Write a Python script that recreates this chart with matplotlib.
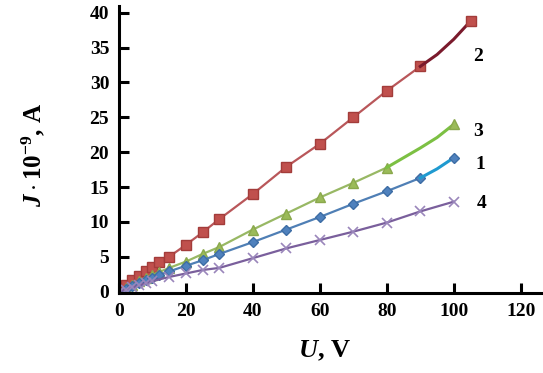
import numpy as np
import matplotlib
matplotlib.use('Agg')
import matplotlib.pyplot as plt

plt.rcParams['font.family'] = ['Liberation Serif', 'DejaVu Serif']
plt.rcParams['font.weight'] = 'bold'
plt.rcParams['mathtext.fontset'] = 'custom'
plt.rcParams['mathtext.rm'] = 'Liberation Serif:bold'
plt.rcParams['mathtext.it'] = 'Liberation Serif:italic:bold'
plt.rcParams['mathtext.bf'] = 'Liberation Serif:bold'

# Curva 2 (cuadrados rojos)
u2 = [0, 2, 4, 6, 8, 10, 12, 15, 20, 25, 30, 40, 50, 60, 70, 80, 90]
j2 = [0, 0.9, 1.6, 2.3, 3.0, 3.6, 4.2, 5.0, 6.7, 8.5, 10.4, 14.0, 17.9, 21.2, 25.0, 28.8, 32.3]
u2_end = [90, 95, 100, 105]
j2_end = [32.3, 34.0, 36.2, 38.8]

# Curva 3 (triangulos verdes)
u3 = [0, 2, 4, 6, 8, 10, 12, 15, 20, 25, 30, 40, 50, 60, 70, 80]
j3 = [0, 0.5, 1.0, 1.5, 2.0, 2.4, 2.8, 3.4, 4.3, 5.4, 6.4, 8.9, 11.2, 13.5, 15.6, 17.8]
u3_end = [80, 85, 90, 95, 100]
j3_end = [17.8, 19.2, 20.6, 22.1, 24.0]

# Curva 1 (rombos azules)
u1 = [0, 2, 4, 6, 8, 10, 12, 15, 20, 25, 30, 40, 50, 60, 70, 80, 90]
j1 = [0, 0.4, 0.8, 1.2, 1.6, 2.0, 2.4, 2.9, 3.7, 4.5, 5.4, 7.1, 8.9, 10.7, 12.6, 14.4, 16.3]
u1_end = [90, 95, 100]
j1_end = [16.3, 17.6, 19.2]

# Curva 4 (cruces violetas)
u4 = [0, 2, 4, 6, 8, 10, 15, 20, 25, 30, 40, 50, 60, 70, 80, 90, 100]
j4 = [0, 0.3, 0.6, 0.9, 1.2, 1.5, 2.1, 2.6, 3.1, 3.4, 4.8, 6.2, 7.4, 8.6, 9.9, 11.5, 12.9]

curve_names = ['2', '3', '1', '4']
name_x = [107.2, 107.2, 107.8, 108.4]
name_y = [33.7, 23.0, 18.2, 12.7]

fig = plt.figure(figsize=(5.43, 3.73), dpi=100)
ax = fig.add_axes([0.219, 0.2145, 0.777, 0.77])

ax.plot(u2, j2, color='#b9575a', lw=1.6, marker='s', ms=6.5, mfc='#c0504d', mec='#a33c3a')
ax.plot(u2_end, j2_end, color='#7a1a2c', lw=2.2)
ax.plot(u2_end[-1:], j2_end[-1:], ls='none', marker='s', ms=6.5, mfc='#c0504d', mec='#a33c3a')

ax.plot(u3, j3, color='#98b864', lw=1.6, marker='^', ms=7, mfc='#9bbb59', mec='#8aa84c')
ax.plot(u3_end, j3_end, color='#7cc043', lw=2.2)
ax.plot(u3_end[-1:], j3_end[-1:], ls='none', marker='^', ms=7, mfc='#9bbb59', mec='#8aa84c')

ax.plot(u1, j1, color='#4f7fb5', lw=1.6, marker='D', ms=5, mfc='#4f81bd', mec='#3d6da5')
ax.plot(u1_end, j1_end, color='#1f9ad0', lw=2.2)
ax.plot(u1_end[-1:], j1_end[-1:], ls='none', marker='D', ms=5, mfc='#4f81bd', mec='#3d6da5')

ax.plot(u4, j4, color='#7a5f9c', lw=1.6, marker='x', ms=6.5, mew=1.2, mec='#9a86bb')

for name, tx, ty in zip(curve_names, name_x, name_y):
    ax.text(tx, ty, name, fontsize=14, fontweight='bold', ha='center', va='center')

ax.set_xlim(0, 126)
ax.set_ylim(-0.2, 41)
ax.set_xticks(np.arange(0, 121, 20))
ax.set_yticks(np.arange(0, 41, 5))

for side in ['top', 'right']:
    ax.spines[side].set_visible(False)
for side in ['left', 'bottom']:
    ax.spines[side].set_linewidth(2.2)

ax.tick_params(direction='in', length=7, width=2.2, labelsize=14, pad=7)

ax.set_xlabel(r'$\it{U}$, V', fontsize=19, fontweight='bold')
ax.set_ylabel(r'$\it{J}\cdot\rm{10}^{-9}$, A', fontsize=18, fontweight='bold')
ax.xaxis.set_label_coords(0.488, -0.16)
ax.yaxis.set_label_coords(-0.17, 0.48)

fig.savefig('out.png', dpi=100)
